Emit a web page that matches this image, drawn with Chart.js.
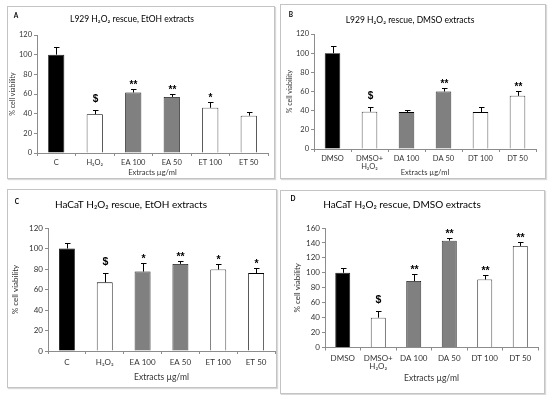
<!DOCTYPE html>
<html><head><meta charset="utf-8">
<script src="https://cdn.jsdelivr.net/npm/chart.js@4/dist/chart.umd.min.js"></script>
<style>
html,body{margin:0;padding:0;background:#fff;}
body{width:550px;height:395px;position:relative;overflow:hidden;}
.panel{position:absolute;box-sizing:border-box;border:1px solid #c4c4c4;background:#fff;box-shadow:1px 1px 1px rgba(0,0,0,0.15);}
.panel canvas{position:absolute;left:0;top:0;}
</style></head><body>
<div class="panel" id="pA"><canvas id="cA"></canvas></div>
<div class="panel" id="pB"><canvas id="cB"></canvas></div>
<div class="panel" id="pC"><canvas id="cC"></canvas></div>
<div class="panel" id="pD"><canvas id="cD"></canvas></div>
<script>
// ---------- DATA ----------
const categoriesA = ['C', 'H₂O₂', 'EA 100', 'EA 50', 'ET 100', 'ET 50'];
const valuesA = [100, 39.5, 61.5, 57, 46, 38];
const errorsA = [7.5, 4.5, 3.5, 3.5, 5.5, 4];
const marksA = ['', '$', '**', '**', '*', ''];
const ticksA = [0, 20, 40, 60, 80, 100, 120];

const categoriesB = ['DMSO', ['DMSO+', 'H₂O₂'], 'DA 100', 'DA 50', 'DT 100', 'DT 50'];
const valuesB = [100, 39, 38.5, 60, 38.5, 55.5];
const errorsB = [8, 5, 2.5, 3.5, 5.5, 5];
const marksB = ['', '$', '', '**', '', '**'];
const ticksB = [0, 20, 40, 60, 80, 100, 120];

const categoriesC = ['C', 'H₂O₂', 'EA 100', 'EA 50', 'ET 100', 'ET 50'];
const valuesC = [100, 67, 77.5, 85, 79.5, 76];
const errorsC = [5.5, 9, 8, 3, 5.5, 5];
const marksC = ['', '$', '*', '**', '*', '*'];
const ticksC = [0, 20, 40, 60, 80, 100, 120];

const categoriesD = ['DMSO', ['DMSO+', 'H₂O₂'], 'DA 100', 'DA 50', 'DT 100', 'DT 50'];
const valuesD = [100, 40, 89, 143, 91, 136];
const errorsD = [6, 9, 9, 3.5, 6, 5.5];
const marksD = ['', '$', '**', '**', '**', '**'];
const ticksD = [0, 20, 40, 60, 80, 100, 120, 140, 160];

const titles = ['L929 H₂O₂ rescue, EtOH extracts', 'L929 H₂O₂ rescue, DMSO extracts',
                'HaCaT H₂O₂ rescue, EtOH extracts', 'HaCaT H₂O₂ rescue, DMSO extracts'];
const yAxisTitle = '% cell viability';
const xAxisTitle = 'Extracts µg/ml';

// ---------- STYLE / LAYOUT ----------
const FONT = 'Lato, "Liberation Sans", sans-serif';
const MARKFONT = '"Liberation Sans", Arial, sans-serif';
const barFill = ['#000000', '#ffffff', '#808080', '#808080', '#ffffff', '#ffffff'];
const axisColor = '#8c8c8c';
const textColor = '#333333';

const layouts = {
  A: {box: [7, 6, 268, 173], plot: [37, 35, 268, 153], title: [132, 19, 8.5], letter: [16, 16],
      yTitleX: 13, yTitleSize: 7, xTitleY: 173, xTitleSize: 7.5, tickSize: 7.5, xTickPad: 3, markSize: 10},
  B: {box: [280, 4, 266, 175], plot: [314, 34, 536, 149], title: [410, 20, 8.5], letter: [291, 15],
      yTitleX: 290, yTitleSize: 7, xTitleY: 173, xTitleSize: 7.5, tickSize: 7.5, xTickPad: 3, markSize: 10},
  C: {box: [7, 189, 270, 199], plot: [48, 228, 275, 351], title: [131, 205, 10], letter: [17, 202],
      yTitleX: 15, yTitleSize: 8, xTitleY: 377, xTitleSize: 8.5, tickSize: 8, xTickPad: 4, markSize: 10.5},
  D: {box: [280, 190, 265, 204], plot: [325, 228, 538, 347.5], title: [402, 205, 10], letter: [293, 199],
      yTitleX: 297, yTitleSize: 8, xTitleY: 378, xTitleSize: 8.5, tickSize: 8, xTickPad: 4, markSize: 10.5}
};

function makeChart(id, labels, values, errors, marks, yTicks, title) {
  const lay = layouts[id];
  const panel = document.getElementById('p' + id);
  const canvas = document.getElementById('c' + id);
  panel.style.left = lay.box[0] + 'px';
  panel.style.top = lay.box[1] + 'px';
  panel.style.width = lay.box[2] + 'px';
  panel.style.height = lay.box[3] + 'px';
  const cw = lay.box[2] - 2, ch = lay.box[3] - 2;
  canvas.width = cw; canvas.height = ch;
  canvas.style.width = cw + 'px'; canvas.style.height = ch + 'px';
  const ox = lay.box[0] + 1, oy = lay.box[1] + 1;
  const L = lay.plot[0] - ox, T = lay.plot[1] - oy, R = lay.plot[2] - ox, B = lay.plot[3] - oy;
  const yLH = lay.yTitleSize * 1.2, xLH = lay.xTitleSize * 1.2;

  const annot = {
    id: 'annot' + id,
    afterDatasetsDraw(chart) {
      const ctx = chart.ctx;
      const ys = chart.scales.y;
      const meta = chart.getDatasetMeta(0);
      ctx.save();
      ctx.strokeStyle = '#000';
      ctx.lineWidth = 1;
      meta.data.forEach((bar, i) => {
        const x = Math.round(bar.x) + 0.5;
        const yTop = ys.getPixelForValue(values[i]);
        const yErr = Math.round(ys.getPixelForValue(values[i] + errors[i])) + 0.5;
        ctx.beginPath();
        ctx.moveTo(x, yTop);
        ctx.lineTo(x, yErr);
        ctx.moveTo(x - 2.5, yErr);
        ctx.lineTo(x + 3, yErr);
        ctx.stroke();
        const m = marks[i];
        if (m) {
          ctx.fillStyle = '#000';
          ctx.textAlign = 'center';
          ctx.textBaseline = 'alphabetic';
          ctx.font = 'bold ' + lay.markSize + 'px ' + MARKFONT;
          const off = m === '$' ? lay.markSize * 0.85 : lay.markSize * 0.15;
          ctx.fillText(m, x, yErr - off);
        }
      });
      ctx.restore();
    },
    afterDraw(chart) {
      const ctx = chart.ctx;
      ctx.save();
      ctx.fillStyle = '#000';
      ctx.textAlign = 'center';
      ctx.textBaseline = 'middle';
      ctx.font = lay.title[2] + 'px ' + FONT;
      ctx.fillText(title, lay.title[0] - ox, lay.title[1] - oy);
      ctx.font = 'bold 6.5px ' + FONT;
      ctx.fillText(id, lay.letter[0] - ox, lay.letter[1] - oy);
      ctx.restore();
    }
  };

  return new Chart(canvas, {
    type: 'bar',
    data: {
      labels: labels,
      datasets: [{
        data: values,
        backgroundColor: barFill,
        borderColor: '#000',
        borderWidth: 0.8,
        barPercentage: 0.42,
        categoryPercentage: 1
      }]
    },
    options: {
      responsive: false,
      animation: false,
      devicePixelRatio: 1,
      layout: {padding: {top: T, right: cw - R, left: 0, bottom: 0}},
      plugins: {legend: {display: false}, tooltip: {enabled: false}, title: {display: false}},
      scales: {
        x: {
          grid: {display: true, drawOnChartArea: false, drawTicks: true, tickLength: 3, color: axisColor, offset: true},
          border: {color: axisColor, width: 1},
          ticks: {font: {family: FONT, size: lay.tickSize, lineHeight: 1.0}, color: textColor, padding: lay.xTickPad, maxRotation: 0, autoSkip: false},
          title: {display: true, text: xAxisTitle, color: textColor, font: {family: FONT, size: lay.xTitleSize, lineHeight: 1.2},
                  padding: {top: 0, bottom: Math.max(0, ch - (lay.xTitleY - oy) - xLH / 2)}},
          afterFit: s => { s.height = ch - B; }
        },
        y: {
          min: yTicks[0], max: yTicks[yTicks.length - 1],
          afterBuildTicks: s => { s.ticks = yTicks.map(v => ({value: v})); },
          grid: {display: true, drawOnChartArea: false, drawTicks: true, tickLength: 3, color: axisColor},
          border: {color: axisColor, width: 1},
          ticks: {font: {family: FONT, size: lay.tickSize}, color: textColor, padding: 2},
          title: {display: true, text: yAxisTitle, color: textColor, font: {family: FONT, size: lay.yTitleSize, lineHeight: 1.2},
                  padding: {top: Math.max(0, (lay.yTitleX - ox) - yLH / 2), bottom: 0}},
          afterFit: s => { s.width = L; }
        }
      }
    },
    plugins: [annot]
  });
}

makeChart('A', categoriesA, valuesA, errorsA, marksA, ticksA, titles[0]);
makeChart('B', categoriesB, valuesB, errorsB, marksB, ticksB, titles[1]);
makeChart('C', categoriesC, valuesC, errorsC, marksC, ticksC, titles[2]);
makeChart('D', categoriesD, valuesD, errorsD, marksD, ticksD, titles[3]);
</script>
</body></html>
